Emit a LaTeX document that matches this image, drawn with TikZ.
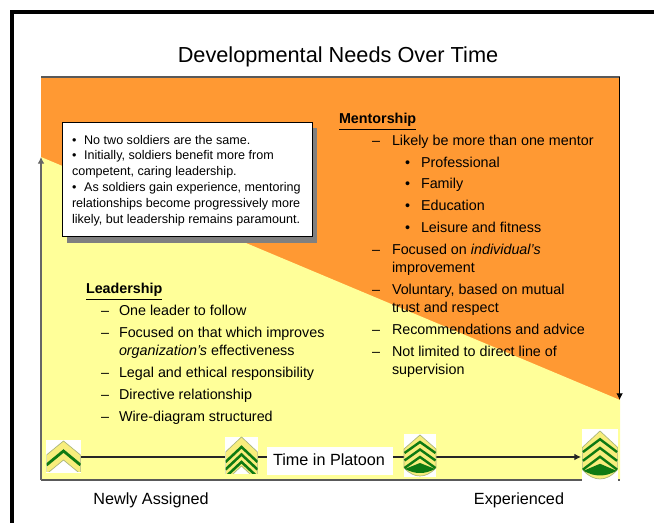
\documentclass[tikz,border=0pt]{standalone}
\usepackage{fontspec}
\setmainfont{Liberation Sans}
\usetikzlibrary{arrows.meta}
\definecolor{orangeb}{HTML}{FF9933}
\definecolor{yell}{HTML}{FFFF99}
\definecolor{rankg}{HTML}{0E7A12}
\definecolor{ranky}{HTML}{F8EE7C}
\definecolor{rankedge}{HTML}{A9B57A}
\tikzset{
  x=0.75pt,y=-0.75pt,
  every node/.style={inner sep=0pt,outer sep=0pt,font=\fontsize{10.75}{13}\selectfont},
  txt/.style={anchor=base west},
  small/.style={anchor=base west,font=\fontsize{9.42}{11}\selectfont},
  big/.style={anchor=base,font=\fontsize{12.15}{14}\selectfont},
  axisline/.style={line width=0.8pt,-{Latex[length=5pt,width=5pt]}},
}
% cx, top, half width, drop, thickness, bottom clip, apex offsets of the green stripes, stripe width
\newcommand{\chevrons}[8]{%
  \begin{scope}
  \clip (#1-#3,#2) rectangle (#1+#3,#6);
  \fill[ranky,draw=rankedge,line width=0.5pt] (#1-#3,#2+#4) -- (#1,#2) -- (#1+#3,#2+#4) -- (#1+#3,#2+#4+#5) -- (#1,#2+#5) -- (#1-#3,#2+#4+#5) -- cycle;
  \foreach \a in {#7}{
    \draw[rankg,line width=#8] (#1-#3,#2+\a+#4) -- (#1,#2+\a) -- (#1+#3,#2+\a+#4);
  }
  \end{scope}}
% shield insignia, drawn in a 32 x 42 px frame
\newcommand{\shieldpin}[4]{%
  \begin{scope}[shift={(#1,#2)},xscale=#3,yscale=#4]
  \fill[ranky,draw=rankedge,line width=0.5pt] (-16,14) -- (0,0) -- (16,14) -- (16,33) .. controls (10,39) and (5,41) .. (0,41) .. controls (-5,41) and (-10,39) .. (-16,33) -- cycle;
  \foreach \a in {7,14.5,22}{
    \draw[rankg,line width=1.8pt] (-15.5,\a+11) -- (0,\a) -- (15.5,\a+11);
  }
  \fill[rankg] (-15,34) -- (0,28) -- (15,34) .. controls (9,37) and (5,38) .. (0,38) .. controls (-5,38) and (-9,37) .. (-15,34) -- cycle;
  \end{scope}}
\begin{document}
\begin{tikzpicture}
\useasboundingbox (0,0) rectangle (654,523);
\fill[white] (0,0) rectangle (654,523);
\draw[black,line width=3pt] (12,523) -- (12,12) -- (654,12);
\fill[orangeb] (41,77) rectangle (620,480);
\fill[yell] (41,157) -- (620,400) -- (620,480) -- (41,480) -- cycle;
\draw[black!65!white,line width=0.8pt] (41,77) -- (620,77);
\draw[black!65!white,line width=0.8pt] (41,480) -- (620,480);
\coordinate (ytop) at (41,157);
\coordinate (ybot) at (41,480);
\coordinate (ztop) at (619.6,77);
\coordinate (zbot) at (619.6,400);
\draw[axisline,draw=black!60!white,{Latex[length=5pt,width=5pt]}-] (ytop) -- (ybot);
\draw[axisline,draw=black] (ztop) -- (zbot);
\node[anchor=base,font=\fontsize{16.3}{20}\selectfont] (title) at (338,63) {Developmental Needs Over Time};
% note box
\fill[black!50!white] (67,128) rectangle (317,243);
\node[draw=black,line width=0.8pt,fill=white,anchor=north west,minimum width=187.5pt,minimum height=85.5pt] (note) at (62.5,122.5) {};
\node[small] (n1) at (72,145) {•\hspace{0.62em}No two soldiers are the same.};
\node[small] (n2) at (72,160) {•\hspace{0.62em}Initially, soldiers benefit more from};
\node[small] (n3) at (72,176) {competent, caring leadership.};
\node[small] (n4) at (72,192) {•\hspace{0.62em}As soldiers gain experience, mentoring};
\node[small] (n5) at (72,208) {relationships become progressively more};
\node[small] (n6) at (72,224) {likely, but leadership remains paramount.};
% Mentorship
\node[txt] (m0) at (339,124) {\textbf{\underline{Mentorship}}};
\node[txt] (m1) at (372,146) {–};
\node[txt] (m1t) at (392,146) {Likely be more than one mentor};
\foreach \yy/\tt/\nn in {168/Professional/a,189/Family/b,211/Education/c,233/Leisure and fitness/d}{
  \node[txt] (mb\nn) at (405,\yy) {•};
  \node[txt] (ms\nn) at (421,\yy) {\tt};
}
\node[txt] (m2) at (372,255) {–};
\node[txt] (m2t) at (392,255) {Focused on \textit{individual’s}};
\node[txt] (m2u) at (392,273) {improvement};
\node[txt] (m3) at (372,295) {–};
\node[txt] (m3t) at (392,295) {Voluntary, based on mutual};
\node[txt] (m3u) at (392,313) {trust and respect};
\node[txt] (m4) at (372,335) {–};
\node[txt] (m4t) at (392,335) {Recommendations and advice};
\node[txt] (m5) at (372,357) {–};
\node[txt] (m5t) at (392,357) {Not limited to direct line of};
\node[txt] (m5u) at (392,375) {supervision};
% Leadership
\node[txt] (l0) at (86,294) {\textbf{\underline{Leadership}}};
\node[txt] (l1) at (101,316) {–};
\node[txt] (l1t) at (119,316) {One leader to follow};
\node[txt] (l2) at (101,338) {–};
\node[txt] (l2t) at (119,338) {Focused on that which improves};
\node[txt] (l2u) at (119,356) {\textit{organization’s} effectiveness};
\node[txt] (l3) at (101,378) {–};
\node[txt] (l3t) at (119,378) {Legal and ethical responsibility};
\node[txt] (l4) at (101,400) {–};
\node[txt] (l4t) at (119,400) {Directive relationship};
\node[txt] (l5) at (101,422) {–};
\node[txt] (l5t) at (119,422) {Wire-diagram structured};
% time arrow
\coordinate (tl) at (64,457);
\coordinate (tr) at (581,457);
\draw[axisline,draw=black!85!white] (tl) -- (tr);
% insignia
\fill[white] (46,440) rectangle (81,473);
\chevrons{63.5}{441}{17}{14}{19}{472}{10}{2.1pt}
\fill[white] (225,437) rectangle (258,474);
\chevrons{241.5}{437}{16}{15}{29}{474}{10,17.5,25}{1.9pt}
\fill[white] (404,434) rectangle (436,477);
\shieldpin{420}{435}{1}{1}
\fill[white] (582,429) rectangle (618,481);
\shieldpin{600}{431}{1.1}{1.17}
\node[fill=white,minimum width=94.5pt,minimum height=21pt] (timebox) at (330,461) {};
\node[big] (time) at (329,466) {Time in Platoon};
\node[big] (na) at (151,505) {Newly Assigned};
\node[big] (ex) at (519,505) {Experienced};
\end{tikzpicture}
\end{document}
